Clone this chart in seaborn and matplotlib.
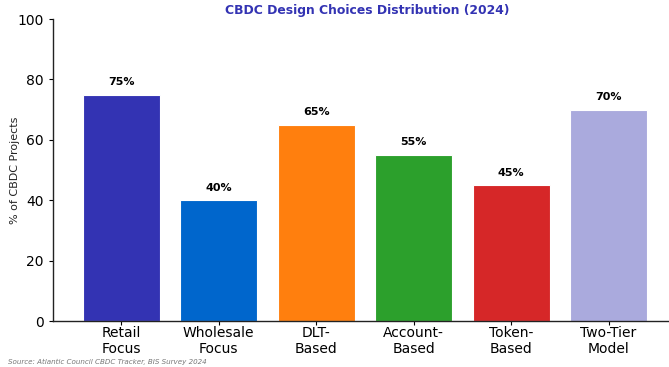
import matplotlib
matplotlib.use("Agg")
import matplotlib.pyplot as plt
import seaborn as sns
import pandas as pd

categories = ["Retail\nFocus", "Wholesale\nFocus", "DLT-\nBased", "Account-\nBased", "Token-\nBased", "Two-Tier\nModel"]
values = [75, 40, 65, 55, 45, 70]
colors = ["#3333b3", "#0066cc", "#ff7f0e", "#2ca02c", "#d62728", "#aaaadd"]
yticks = [0, 20, 40, 60, 80, 100]

sns.set_style("white")
plt.rcParams['font.family'] = ['DejaVu Sans']
plt.rcParams['text.color'] = 'black'
plt.rcParams['axes.labelcolor'] = '#222222'
plt.rcParams['xtick.color'] = 'black'
plt.rcParams['ytick.color'] = 'black'

df = pd.DataFrame({"cat": categories, "val": values})
fig = plt.figure(figsize=(6.69, 3.67), dpi=100)
ax = fig.add_axes([0.079, 0.125, 0.921, 0.823])
sns.barplot(data=df, x="cat", y="val", hue="cat", palette=colors, legend=False,
            width=0.79, ax=ax, edgecolor="white", linewidth=0.8, saturation=1)
for i, v in enumerate(values):
    ax.text(i, v + 2.5, f"{v}%", ha="center", va="bottom", fontsize=8, fontweight="bold", color="black")
ax.set_ylim(0, 100)
ax.set_xlim(-0.70, 5.62)
ax.set_yticks(yticks)
ax.tick_params(axis="y", labelsize=10, length=3, width=0.8, left=True)
ax.tick_params(axis="x", labelsize=10, length=3, width=0.8, bottom=True, pad=0.5)
ax.set_xlabel("")
ax.set_ylabel("% of CBDC Projects", fontsize=8, labelpad=-2)
for s in ["top", "right"]:
    ax.spines[s].set_visible(False)
for s in ["left", "bottom"]:
    ax.spines[s].set_color("#222222")
    ax.spines[s].set_linewidth(1.0)
ax.set_title("CBDC Design Choices Distribution (2024)", fontsize=8.9, fontweight="bold",
             color="#3333b3", pad=4, x=0.51)
fig.text(0.012, 0.008, "Source: Atlantic Council CBDC Tracker, BIS Survey 2024", fontsize=5.1,
         style="italic", color="#777777")
fig.savefig("out.png", dpi=100)
